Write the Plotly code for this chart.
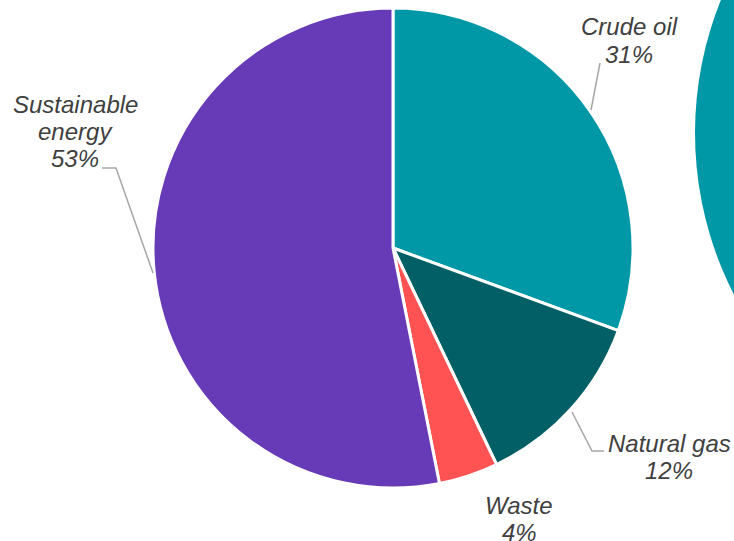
import plotly.graph_objects as go

W, H = 734, 541

# ---- data ----
categories = ["Crude oil", "Natural gas", "Waste", "Sustainable energy"]
values = [30.6, 12.3, 4.0, 53.1]
label_lines = [["Crude oil"], ["Natural gas"], ["Waste"], ["Sustainable", "energy"]]

colors = ["#0097A7", "#035F66", "#FF5252", "#673AB7"]

# ---- layout helpers (pixel -> paper) ----
def px(x):
    return x / W

def py(y):
    return 1 - y / H

cx, cy, r = 393, 248, 240

fig = go.Figure()
fig.add_trace(go.Pie(
    labels=categories,
    values=values,
    sort=False,
    direction="clockwise",
    rotation=0,
    marker=dict(colors=colors, line=dict(color="white", width=3)),
    textinfo="none",
    hoverinfo="label+percent",
    domain=dict(x=[px(cx - r), px(cx + r)], y=[py(cy + r), py(cy - r)]),
    showlegend=False,
))

# label placement (style/layout): center x, y of first line, line step
label_pos = [(629, 27), (669, 443), (519, 505), (75, 104)]
step = 27.3
total = sum(values)
for lines, v, (lx, ly) in zip(label_lines, values, label_pos):
    pct = f"{round(v / total * 100)}%"
    for i, t in enumerate(lines + [pct]):
        fig.add_annotation(
            x=px(lx), y=py(ly + i * step), xref="paper", yref="paper",
            text=f"<i>{t}</i>", showarrow=False,
            xanchor="center", yanchor="middle",
            font=dict(family="Liberation Sans, Arial", size=24, color="#404040"),
        )

# leader lines
leader = dict(color="#A6A6A6", width=1.5)
def seg(pts):
    path = "M " + " L ".join(f"{px(x)},{py(y)}" for x, y in pts)
    fig.add_shape(type="path", path=path, xref="paper", yref="paper", line=leader)

seg([(591, 110), (600, 63)])
seg([(102, 168), (116, 168), (153, 273)])
seg([(572, 412), (592, 451), (604, 451)])

# partial circle at right edge
fig.add_shape(type="circle", xref="paper", yref="paper",
              x0=px(695), x1=px(1405), y0=py(488), y1=py(-222),
              fillcolor="#0097A7", line=dict(width=0), layer="below")

fig.update_layout(
    width=W, height=H,
    margin=dict(l=0, r=0, t=0, b=0),
    paper_bgcolor="white", plot_bgcolor="white",
)
fig.write_html("out.html", config={"displayModeBar": False},
               post_script="document.body.style.margin='0';document.body.style.overflow='hidden';")
